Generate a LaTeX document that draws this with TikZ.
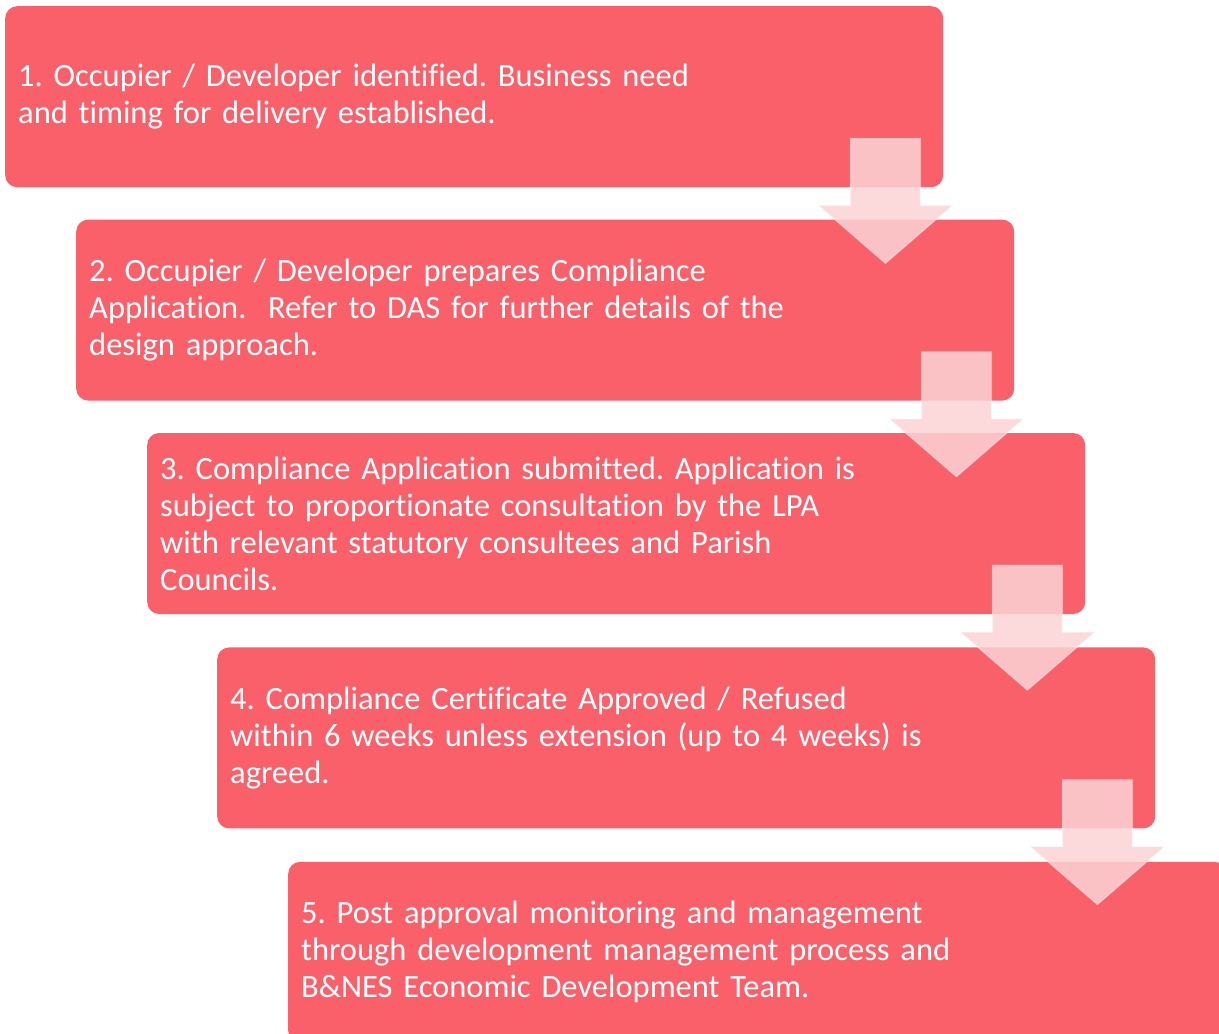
\documentclass[tikz,border=0pt]{standalone}
\usepackage{fontspec}
\setmainfont[Ligatures={NoCommon}]{Carlito}
\usetikzlibrary{calc,positioning}

\definecolor{stepred}{RGB}{250,96,106}
\definecolor{arrowpink}{RGB}{251,212,213}

\tikzset{
  stepbox/.style={fill=stepred, rounded corners=12pt, anchor=north west,
    minimum width=938pt, minimum height=181pt, inner xsep=13pt,
    text width=912pt, align=left, text=white,
    font=\fontsize{32.5}{37}\selectfont\frenchspacing},
  flowarrow/.style={fill=arrowpink, fill opacity=0.85, draw=white,
    draw opacity=0.35, line width=1.2pt}
}

% draws the pale block arrow hanging from the lower right of a step
\newcommand{\steparrow}[1]{%
  \filldraw[flowarrow] ($(#1.south east)+(-93,-49)$) -- ++(70,0) -- ++(0,67)
    -- ++(32,0) -- ++(-67,58) -- ++(-67,-58) -- ++(32,0) -- cycle;}

\begin{document}
\begin{tikzpicture}[x=1pt, y=-1pt]
\useasboundingbox (0,0) rectangle (1219,1034);
\clip (0,0) rectangle (1219,1034);

\node[stepbox] (s1) at (5,6) {1. Occupier / Developer identified. Business need\\
  and timing for delivery established.};
\node[stepbox] (s2) at ($(s1.south west)+(71,32)$) {2. Occupier / Developer prepares Compliance\\
  Application.\ \ Refer to DAS for further details of the\\
  design approach.};
\node[stepbox] (s3) at ($(s2.south west)+(71,32)$) {3. Compliance Application submitted. Application is\\
  subject to proportionate consultation by the LPA\\
  with relevant statutory consultees and Parish\\
  Councils.};
\node[stepbox] (s4) at ($(s3.south west)+(70,33)$) {4. Compliance Certificate Approved / Refused\\
  within 6 weeks unless extension (up to 4 weeks) is\\
  agreed.};
\node[stepbox] (s5) at ($(s4.south west)+(71,33)$) {5. Post approval monitoring and management\\
  through development management process and\\
  B\&NES Economic Development Team.};

\steparrow{s1}
\steparrow{s2}
\steparrow{s3}
\steparrow{s4}
\end{tikzpicture}
\end{document}
